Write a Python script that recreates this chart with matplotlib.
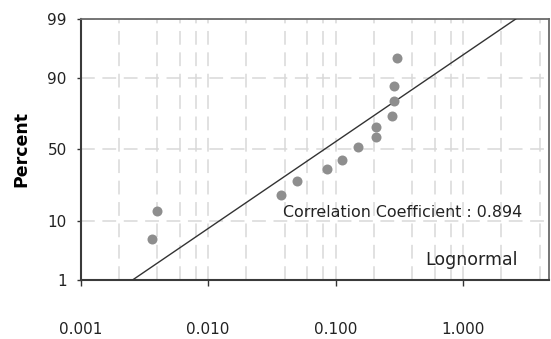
import matplotlib
matplotlib.use("Agg")
import matplotlib.pyplot as plt
from matplotlib.ticker import LogLocator, FuncFormatter, NullFormatter
from statistics import NormalDist

# data
values = [0.00361, 0.00395, 0.0374, 0.0502, 0.0853, 0.112, 0.149,
          0.209, 0.209, 0.279, 0.290, 0.290, 0.303]
percents = [5.6, 13.8, 20.9, 28.9, 36.1, 42.6, 52.0,
            59.0, 65.8, 72.5, 80.8, 87.1, 94.9]
fit_x = [0.00255, 2.60]
fit_pct = [1, 99]
y_ticks_pct = [1, 10, 50, 90, 99]
x_ticks = [0.001, 0.01, 0.1, 1.0]
corr = 0.894

nd = NormalDist()
z = lambda p: nd.inv_cdf(p / 100.0)

fig = plt.figure(figsize=(5.51, 3.39), dpi=100)
ax = fig.add_axes([0.1465, 0.174, 0.849, 0.770])

ax.set_xscale("log")
ax.set_xlim(0.001, 4.7)
ax.set_ylim(z(1), z(99))

ax.plot(fit_x, [z(p) for p in fit_pct], color="#333333", lw=1.0, zorder=3)
ax.plot(values, [z(p) for p in percents], "o", color="#8e8e8e",
        markersize=7.2, markeredgewidth=0, zorder=4)

ax.set_yticks([z(p) for p in y_ticks_pct])
ax.set_yticklabels([str(p) for p in y_ticks_pct])
ax.set_xticks(x_ticks)
ax.xaxis.set_major_formatter(FuncFormatter(lambda v, _: f"{v:.3f}"))
ax.xaxis.set_minor_locator(LogLocator(base=10, subs=(2, 4, 6, 8)))
ax.xaxis.set_minor_formatter(NullFormatter())

grid_style = dict(color="#d8d8d8", lw=1.1, linestyle=(0, (9, 5)))
ax.grid(True, which="major", axis="both", **grid_style)
ax.grid(True, which="minor", axis="x", **grid_style)
ax.set_axisbelow(True)

ax.tick_params(axis="x", which="major", length=4, width=1, color="#333333",
               pad=26, labelsize=11, labelcolor="#222222")
ax.tick_params(axis="x", which="minor", length=0)
ax.tick_params(axis="y", length=3, width=1, color="#333333",
               pad=7, labelsize=11, labelcolor="#222222")

for side in ("left", "bottom"):
    ax.spines[side].set_color("#3a3a3a")
    ax.spines[side].set_linewidth(1.5)
for side in ("top", "right"):
    ax.spines[side].set_color("#6a6a6a")
    ax.spines[side].set_linewidth(1.3)

ax.set_ylabel("Percent", fontsize=12.5, fontweight="bold", labelpad=12)

ax.text(0.689, 0.257, f"Correlation Coefficient : {corr:.3f}",
        transform=ax.transAxes, ha="center", va="center", fontsize=11.4,
        color="#222222")
ax.text(0.935, 0.077, "Lognormal", transform=ax.transAxes,
        ha="right", va="center", fontsize=12.5, color="#222222")

fig.savefig("out.png", dpi=100)
